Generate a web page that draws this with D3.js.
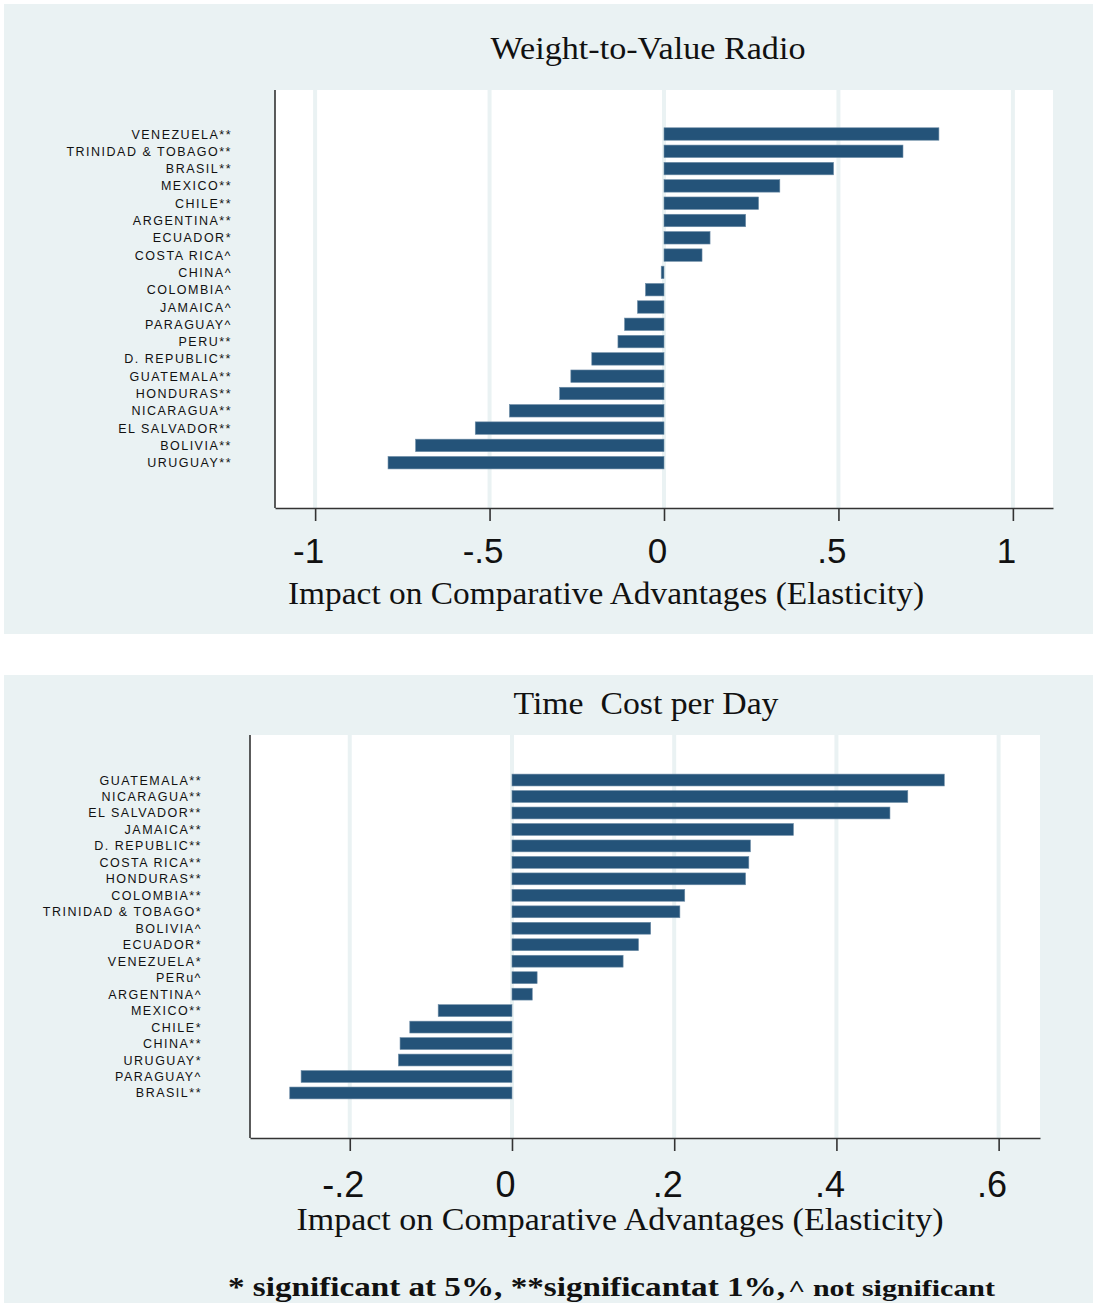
<!DOCTYPE html>
<html>
<head>
<meta charset="utf-8">
<script src="https://cdn.jsdelivr.net/npm/d3@7"></script>
<style>
  html, body { margin: 0; padding: 0; background: #ffffff; }
  svg { display: block; }
</style>
</head>
<body>
<svg id="chart" width="1093" height="1303"></svg>
<script>
// ---------- DATA ----------
const topTitle = "Weight-to-Value Radio";
const topCategories = ["VENEZUELA**", "TRINIDAD & TOBAGO**", "BRASIL**", "MEXICO**", "CHILE**",
  "ARGENTINA**", "ECUADOR*", "COSTA RICA^", "CHINA^", "COLOMBIA^", "JAMAICA^", "PARAGUAY^",
  "PERU**", "D. REPUBLIC**", "GUATEMALA**", "HONDURAS**", "NICARAGUA**", "EL SALVADOR**",
  "BOLIVIA**", "URUGUAY**"];
const topValues = [0.788, 0.685, 0.486, 0.332, 0.271, 0.234, 0.132, 0.109, -0.008, -0.053,
  -0.076, -0.113, -0.132, -0.207, -0.267, -0.299, -0.443, -0.541, -0.712, -0.791];
const topTicks = [-1, -0.5, 0, 0.5, 1];
const topTickLabels = ["-1", "-.5", "0", ".5", "1"];

const bottomTitle = "Time  Cost per Day";
const bottomCategories = ["GUATEMALA**", "NICARAGUA**", "EL SALVADOR**", "JAMAICA**",
  "D. REPUBLIC**", "COSTA RICA**", "HONDURAS**", "COLOMBIA**", "TRINIDAD & TOBAGO*", "BOLIVIA^",
  "ECUADOR*", "VENEZUELA*", "PERu^", "ARGENTINA^", "MEXICO**", "CHILE*", "CHINA**", "URUGUAY*",
  "PARAGUAY^", "BRASIL**"];
const bottomValues = [0.533, 0.488, 0.466, 0.347, 0.294, 0.292, 0.288, 0.213, 0.207, 0.171,
  0.156, 0.137, 0.031, 0.025, -0.091, -0.126, -0.138, -0.140, -0.260, -0.274];
const bottomTicks = [-0.2, 0, 0.2, 0.4, 0.6];
const bottomTickLabels = ["-.2", "0", ".2", ".4", ".6"];

const xAxisTitle = "Impact on Comparative Advantages (Elasticity)";
const footnoteMain = "* significant at 5%, **significantat 1%,";
const footnoteTail = "^ not significant";

// ---------- STYLE ----------
const regionColor = "#eaf2f3";
const barColor = "#245379";
const gridColor = "#eaf2f3";
const axisColor = "#333333";
const serif = "'Liberation Serif', 'Times New Roman', serif";
const sans = "'Liberation Sans', Arial, sans-serif";

const svg = d3.select("#chart");

function drawPanel(cfg) {
  const g = svg.append("g");
  // outer graph region
  g.append("rect")
    .attr("x", cfg.region[0]).attr("y", cfg.region[1])
    .attr("width", cfg.region[2]).attr("height", cfg.region[3])
    .attr("fill", regionColor);
  // plot region
  const [px0, py0, px1, py1] = cfg.plot;
  g.append("rect")
    .attr("x", px0).attr("y", py0)
    .attr("width", px1 - px0).attr("height", py1 - py0)
    .attr("fill", "#ffffff");

  const x = d3.scaleLinear().domain(cfg.domain).range([px0, px1]);
  const y = d3.scaleBand().domain(cfg.categories).range(cfg.bandRange).paddingInner(0.28).paddingOuter(0.14);

  // grid lines
  g.append("g").selectAll("line").data(cfg.ticks).join("line")
    .attr("x1", d => x(d)).attr("x2", d => x(d))
    .attr("y1", py0).attr("y2", py1)
    .attr("stroke", gridColor).attr("stroke-width", 4);

  // bars
  const rows = cfg.categories.map((c, i) => ({ c, v: cfg.values[i] }));
  g.append("g").selectAll("rect").data(rows).join("rect")
    .attr("x", d => x(Math.min(0, d.v)))
    .attr("width", d => Math.abs(x(d.v) - x(0)))
    .attr("y", d => y(d.c))
    .attr("height", y.bandwidth())
    .attr("fill", barColor)
    .attr("stroke", "#6d8ca6").attr("stroke-width", 0.6);

  // category labels
  g.append("g").selectAll("text").data(rows).join("text")
    .attr("x", cfg.labelX)
    .attr("y", d => y(d.c) + y.bandwidth() / 2)
    .attr("dy", "0.36em")
    .attr("text-anchor", "end")
    .attr("font-family", sans)
    .attr("font-size", 12.5)
    .attr("letter-spacing", "1.5px")
    .attr("fill", "#111")
    .text(d => d.c);

  // x axis
  const axis = d3.axisBottom(x)
    .tickValues(cfg.ticks)
    .tickFormat((d, i) => cfg.tickLabels[i])
    .tickSize(13).tickSizeOuter(0);
  const ax = g.append("g").attr("transform", `translate(0,${py1})`).call(axis);
  ax.select(".domain").attr("stroke", axisColor).attr("stroke-width", 1.6);
  ax.selectAll(".tick line").attr("stroke", axisColor).attr("stroke-width", 1.6);
  ax.selectAll(".tick text")
    .attr("font-family", sans).attr("font-size", cfg.tickFont)
    .attr("fill", "#111").attr("dx", -7).attr("y", cfg.tickLabelY);

  // left axis line
  g.append("line")
    .attr("x1", px0).attr("x2", px0).attr("y1", py0).attr("y2", py1)
    .attr("stroke", axisColor).attr("stroke-width", 1.6);

  // title
  g.append("text")
    .attr("x", cfg.titleX).attr("y", cfg.titleY)
    .attr("text-anchor", "middle")
    .attr("font-family", serif).attr("font-size", 31)
    .attr("fill", "#111")
    .attr("textLength", cfg.titleLen).attr("lengthAdjust", "spacingAndGlyphs")
    .style("white-space", "pre")
    .text(cfg.title);

  // axis title
  g.append("text")
    .attr("x", cfg.axisTitleX).attr("y", cfg.axisTitleY)
    .attr("text-anchor", "middle")
    .attr("font-family", serif).attr("font-size", 32)
    .attr("fill", "#111")
    .attr("textLength", cfg.axisTitleLen).attr("lengthAdjust", "spacingAndGlyphs")
    .text(xAxisTitle);
}

drawPanel({
  region: [4, 4, 1089, 630],
  plot: [275, 90, 1053, 508],
  domain: [-1.115, 1.115],
  categories: topCategories, values: topValues,
  ticks: topTicks, tickLabels: topTickLabels,
  bandRange: [125.35, 471.35],
  labelX: 232,
  tickFont: 35, tickLabelY: 30,
  title: topTitle, titleX: 648, titleY: 59, titleLen: 315,
  axisTitleX: 606, axisTitleY: 604, axisTitleLen: 636
});

drawPanel({
  region: [4, 675, 1089, 628],
  plot: [250, 735, 1040, 1138],
  domain: [-0.323, 0.651],
  categories: bottomCategories, values: bottomValues,
  ticks: bottomTicks, tickLabels: bottomTickLabels,
  bandRange: [771.8, 1101.2],
  labelX: 202,
  tickFont: 36, tickLabelY: 33,
  title: bottomTitle, titleX: 646, titleY: 714, titleLen: 265,
  axisTitleX: 620, axisTitleY: 1230, axisTitleLen: 647
});

// footnote
const fnY = 1296;
svg.append("text")
  .attr("x", 228).attr("y", fnY)
  .attr("font-family", serif).attr("font-weight", "bold")
  .attr("font-size", 28).attr("fill", "#111")
  .attr("textLength", 557).attr("lengthAdjust", "spacingAndGlyphs")
  .text(footnoteMain);
svg.append("text")
  .attr("x", 788).attr("y", fnY)
  .attr("font-family", serif).attr("font-weight", "bold")
  .attr("font-size", 24).attr("fill", "#111")
  .attr("textLength", 207).attr("lengthAdjust", "spacingAndGlyphs")
  .text(footnoteTail);
</script>
</body>
</html>
